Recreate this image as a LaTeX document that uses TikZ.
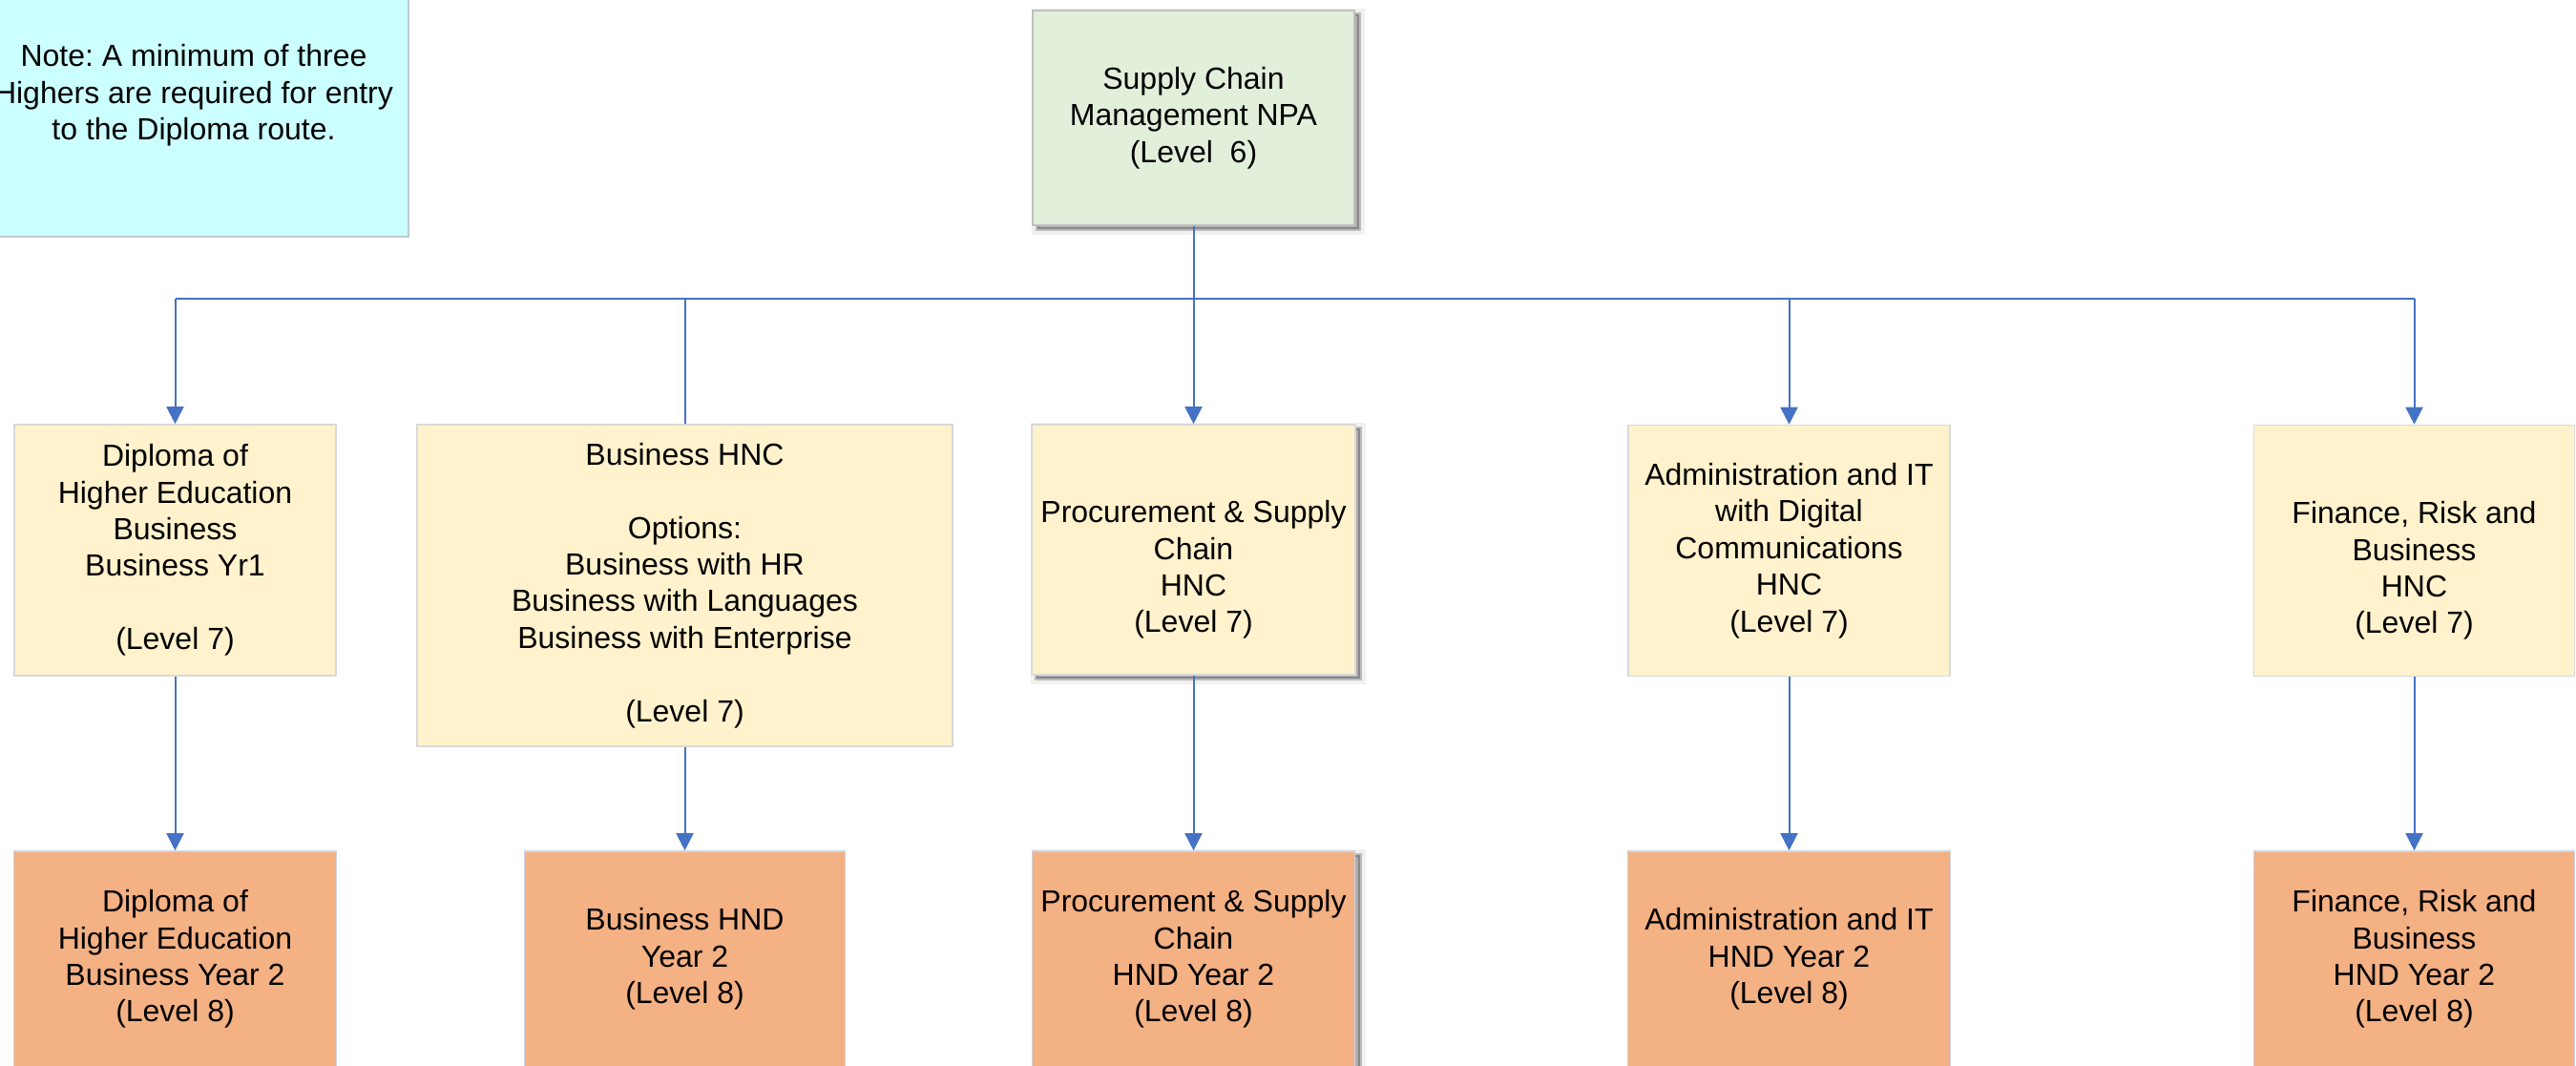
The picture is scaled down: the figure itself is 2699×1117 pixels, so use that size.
\documentclass[tikz,border=0pt]{standalone}
\usepackage{fontspec}
\setmainfont{Liberation Sans}
\frenchspacing
\usetikzlibrary{arrows.meta,shadows}
\definecolor{lineblue}{HTML}{4472C4}
\definecolor{notefill}{RGB}{204,255,255}
\definecolor{noteedge}{RGB}{190,205,210}
\definecolor{topfill}{HTML}{E2EFDA}
\definecolor{topedge}{HTML}{BFBFBF}
\definecolor{yelfill}{HTML}{FFF2CC}
\definecolor{yeledge}{HTML}{D9D9D9}
\definecolor{orafill}{HTML}{F4B183}
\definecolor{oraedge}{RGB}{205,212,225}
\tikzset{
  basebox/.style={rectangle, inner sep=0pt, align=center, font=\fontsize{16}{19.2}\selectfont, text=black},
  notebox/.style={basebox, fill=notefill, draw=noteedge, line width=0.7pt},
  topbox/.style={basebox, fill=topfill, draw=topedge, line width=1.2pt},
  yelbox/.style={basebox, fill=yelfill, draw=yeledge, line width=0.8pt},
  orabox/.style={basebox, fill=orafill, draw=oraedge, line width=0.8pt},
  softshadow/.style={
    drop shadow={shadow xshift=2.5pt, shadow yshift=-2pt, fill=black, opacity=0.06, draw=black, line width=6pt},
    drop shadow={shadow xshift=2.5pt, shadow yshift=-2pt, fill=black, opacity=0.22, draw=black, line width=2pt}},
  wire/.style={draw=lineblue, line width=1pt},
  arrowwire/.style={wire, -{Triangle[length=9pt,width=9pt]}},
}
\begin{document}
\begin{tikzpicture}[x=0.5pt,y=-0.5pt]
\useasboundingbox (0,0) rectangle (2699,1117);
\fill[white] (0,0) rectangle (2699,1117);
% note
\node[notebox, minimum width=225pt, minimum height=148pt] (note) at (203,100)
  {Note: A minimum of three\\Highers are required for entry\\to the Diploma route.};
% top
\node[topbox, softshadow, minimum width=168.5pt, minimum height=112.5pt] (top) at (1250.5,123.5)
  {Supply Chain\\Management NPA\\(Level\ \ 6)};
% row 2
\node[yelbox, minimum width=168.5pt, minimum height=131.5pt] (a1) at (183.5,576.5)
  {Diploma of\\Higher Education\\Business\\Business Yr1\\[19.2pt](Level 7)};
\node[yelbox, minimum width=280.5pt, minimum height=168.5pt] (a2) at (717.5,613.5)
  {Business HNC\\[19.2pt]Options:\\Business with HR\\Business with Languages\\Business with Enterprise\\[19.2pt](Level 7)};
\node[yelbox, softshadow, minimum width=169.5pt, minimum height=131pt] (a3) at (1250.5,576)
  {\strut\\Procurement \& Supply\\Chain\\HNC\\(Level 7)};
\node[yelbox, minimum width=168.5pt, minimum height=131.5pt] (a4) at (1874.5,577)
  {Administration and IT\\with Digital\\Communications\\HNC\\(Level 7)};
\node[yelbox, minimum width=168pt, minimum height=131.5pt] (a5) at (2529.5,577)
  {\strut\\Finance, Risk and\\Business\\HNC\\(Level 7)};
% row 3
\node[orabox, minimum width=169pt, minimum height=113pt] (b1) at (183.5,1005)
  {Diploma of\\Higher Education\\Business Year 2\\(Level 8)};
\node[orabox, minimum width=168pt, minimum height=113pt] (b2) at (717.5,1005)
  {Business HND\\Year 2\\(Level 8)};
\node[orabox, softshadow, minimum width=169pt, minimum height=113pt] (b3) at (1250.5,1005)
  {Procurement \& Supply\\Chain\\HND Year 2\\(Level 8)};
\node[orabox, minimum width=169pt, minimum height=113pt] (b4) at (1874.5,1005)
  {Administration and IT\\HND Year 2\\(Level 8)};
\node[orabox, minimum width=168pt, minimum height=113pt] (b5) at (2529.5,1005)
  {Finance, Risk and\\Business\\HND Year 2\\(Level 8)};
% connectors
\coordinate (bus) at (1250.5,313);
\draw[wire] (top.south) -- (bus);
\draw[wire] (a1.north |- bus) -- (a5.north |- bus);
\draw[arrowwire] (a1.north |- bus) -- (a1.north);
\draw[wire] (a2.north |- bus) -- (a2.north);
\draw[arrowwire] (bus) -- (a3.north);
\draw[arrowwire] (a4.north |- bus) -- (a4.north);
\draw[arrowwire] (a5.north |- bus) -- (a5.north);
\draw[arrowwire] (a1.south) -- (b1.north);
\draw[arrowwire] (a2.south) -- (b2.north);
\draw[arrowwire] (a3.south) -- (b3.north);
\draw[arrowwire] (a4.south) -- (b4.north);
\draw[arrowwire] (a5.south) -- (b5.north);
\end{tikzpicture}
\end{document}
